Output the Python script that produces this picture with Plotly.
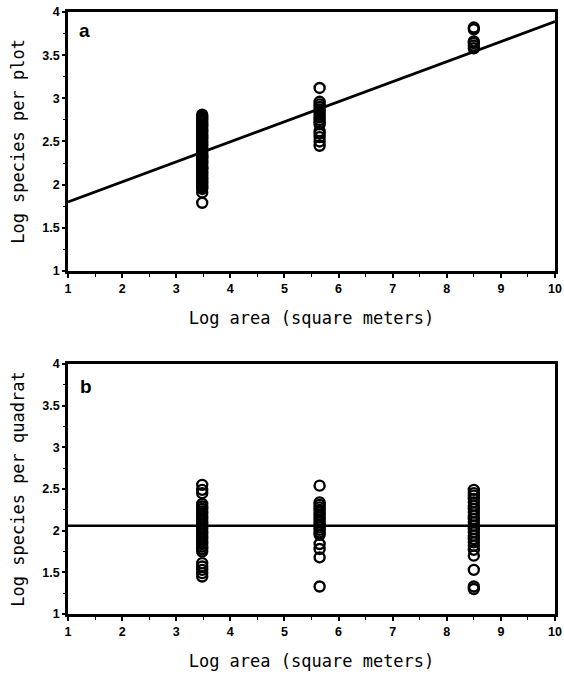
import plotly.graph_objects as go
from plotly.subplots import make_subplots

# ---- data ----
areas = [3.48, 5.65, 8.5]

plot_g1 = [1.79, 1.91, 1.95, 1.97, 1.99, 2.01, 2.03, 2.05, 2.07, 2.08, 2.10, 2.12, 2.14, 2.15,
           2.17, 2.19, 2.20, 2.22, 2.24, 2.26, 2.28, 2.30, 2.32, 2.33, 2.35, 2.37, 2.39, 2.41,
           2.43, 2.45, 2.47, 2.49, 2.51, 2.53, 2.55, 2.57, 2.59, 2.61, 2.63, 2.65, 2.67, 2.69,
           2.71, 2.73, 2.75, 2.77, 2.79, 2.81]
plot_g2 = [2.45, 2.50, 2.55, 2.59, 2.62, 2.70, 2.72, 2.75, 2.78, 2.81, 2.84, 2.87, 2.90,
           2.93, 2.96, 3.12]
plot_g3 = [3.58, 3.61, 3.64, 3.66, 3.80, 3.82]

quad_g1 = [1.45, 1.49, 1.53, 1.57, 1.61, 1.75, 1.78, 1.81, 1.84, 1.87, 1.90, 1.93, 1.96,
           1.99, 2.02, 2.05, 2.08, 2.11, 2.14, 2.17, 2.20, 2.23, 2.26, 2.29, 2.32, 2.45,
           2.49, 2.55]
quad_g2 = [1.33, 1.68, 1.78, 1.84, 1.95, 1.98, 2.01, 2.04, 2.07, 2.10, 2.13, 2.16, 2.19,
           2.22, 2.25, 2.28, 2.31, 2.34, 2.54]
quad_g3 = [1.30, 1.33, 1.53, 1.70, 1.77, 1.82, 1.86, 1.90, 1.94, 1.98, 2.02, 2.06, 2.10,
           2.14, 2.18, 2.22, 2.26, 2.30, 2.34, 2.38, 2.42, 2.45, 2.49]

fit_a_x = [1, 10]
fit_a_y = [1.80, 3.89]
fit_b_x = [1, 10]
fit_b_y = [2.06, 2.06]

x_ticks = [1, 2, 3, 4, 5, 6, 7, 8, 9, 10]
y_ticks = [1, 1.5, 2, 2.5, 3, 3.5, 4]
y_ticktext = ["1", "1.5", "2", "2.5", "3", "3.5", "4"]

# ---- figure ----
fig = make_subplots(rows=2, cols=1, vertical_spacing=0.15)

marker = dict(symbol="circle-open", size=10, color="black", line=dict(width=2.4, color="black"))

for i, ys in enumerate([plot_g1, plot_g2, plot_g3]):
    fig.add_trace(go.Scatter(x=[areas[i]] * len(ys), y=ys, mode="markers", marker=marker,
                             showlegend=False), row=1, col=1)
for i, ys in enumerate([quad_g1, quad_g2, quad_g3]):
    fig.add_trace(go.Scatter(x=[areas[i]] * len(ys), y=ys, mode="markers", marker=marker,
                             showlegend=False), row=2, col=1)

fig.add_trace(go.Scatter(x=fit_a_x, y=fit_a_y, mode="lines", line=dict(color="black", width=2.8),
                         showlegend=False), row=1, col=1)
fig.add_trace(go.Scatter(x=fit_b_x, y=fit_b_y, mode="lines", line=dict(color="black", width=2.5),
                         showlegend=False), row=2, col=1)

tickfont = dict(family="Liberation Sans", size=12.5, color="black", weight="bold")
titlefont = dict(family="DejaVu Sans Mono", size=17, color="black")

for r, ytitle in [(1, "Log species per plot"), (2, "Log species per quadrat")]:
    fig.update_xaxes(range=[1, 10], tickvals=x_ticks, ticks="outside", ticklen=4, tickwidth=1.5,
                     minor=dict(dtick=0.5, ticks="outside", ticklen=3, tickwidth=1.2, tickcolor="black"),
                     showline=True, linecolor="black", linewidth=2.5, mirror=True,
                     showgrid=False, zeroline=False, tickfont=tickfont, tickcolor="black",
                     automargin=False,
                     title=dict(text="Log area (square meters)", font=titlefont, standoff=18),
                     row=r, col=1)
    fig.update_yaxes(range=[1, 4], tickvals=y_ticks, ticktext=y_ticktext, ticks="outside",
                     ticklen=3, tickwidth=1.5,
                     minor=dict(dtick=0.25, ticks="outside", ticklen=2, tickwidth=1.2, tickcolor="black"),
                     showline=True, linecolor="black", linewidth=2.5, mirror=True,
                     showgrid=False, zeroline=False, tickfont=tickfont, tickcolor="black",
                     automargin=False,
                     title=dict(text=ytitle, font=titlefont, standoff=14),
                     row=r, col=1)

fig.update_yaxes(domain=[0.5698, 1.0], row=1, col=1)
fig.update_yaxes(domain=[0.0, 0.4153], row=2, col=1)

fig.add_annotation(x=1.31, y=3.79, xref="x", yref="y", text="<b>a</b>", showarrow=False,
                   font=dict(family="Liberation Sans", size=19, color="black"))
fig.add_annotation(x=1.34, y=3.73, xref="x2", yref="y2", text="<b>b</b>", showarrow=False,
                   font=dict(family="Liberation Sans", size=19, color="black"))

fig.update_layout(width=564, height=674, plot_bgcolor="white", paper_bgcolor="white",
                  margin=dict(l=68, r=9, t=12, b=60))

fig.write_html("out.html", config={"displayModeBar": False},
               post_script="document.body.style.margin='0';")
